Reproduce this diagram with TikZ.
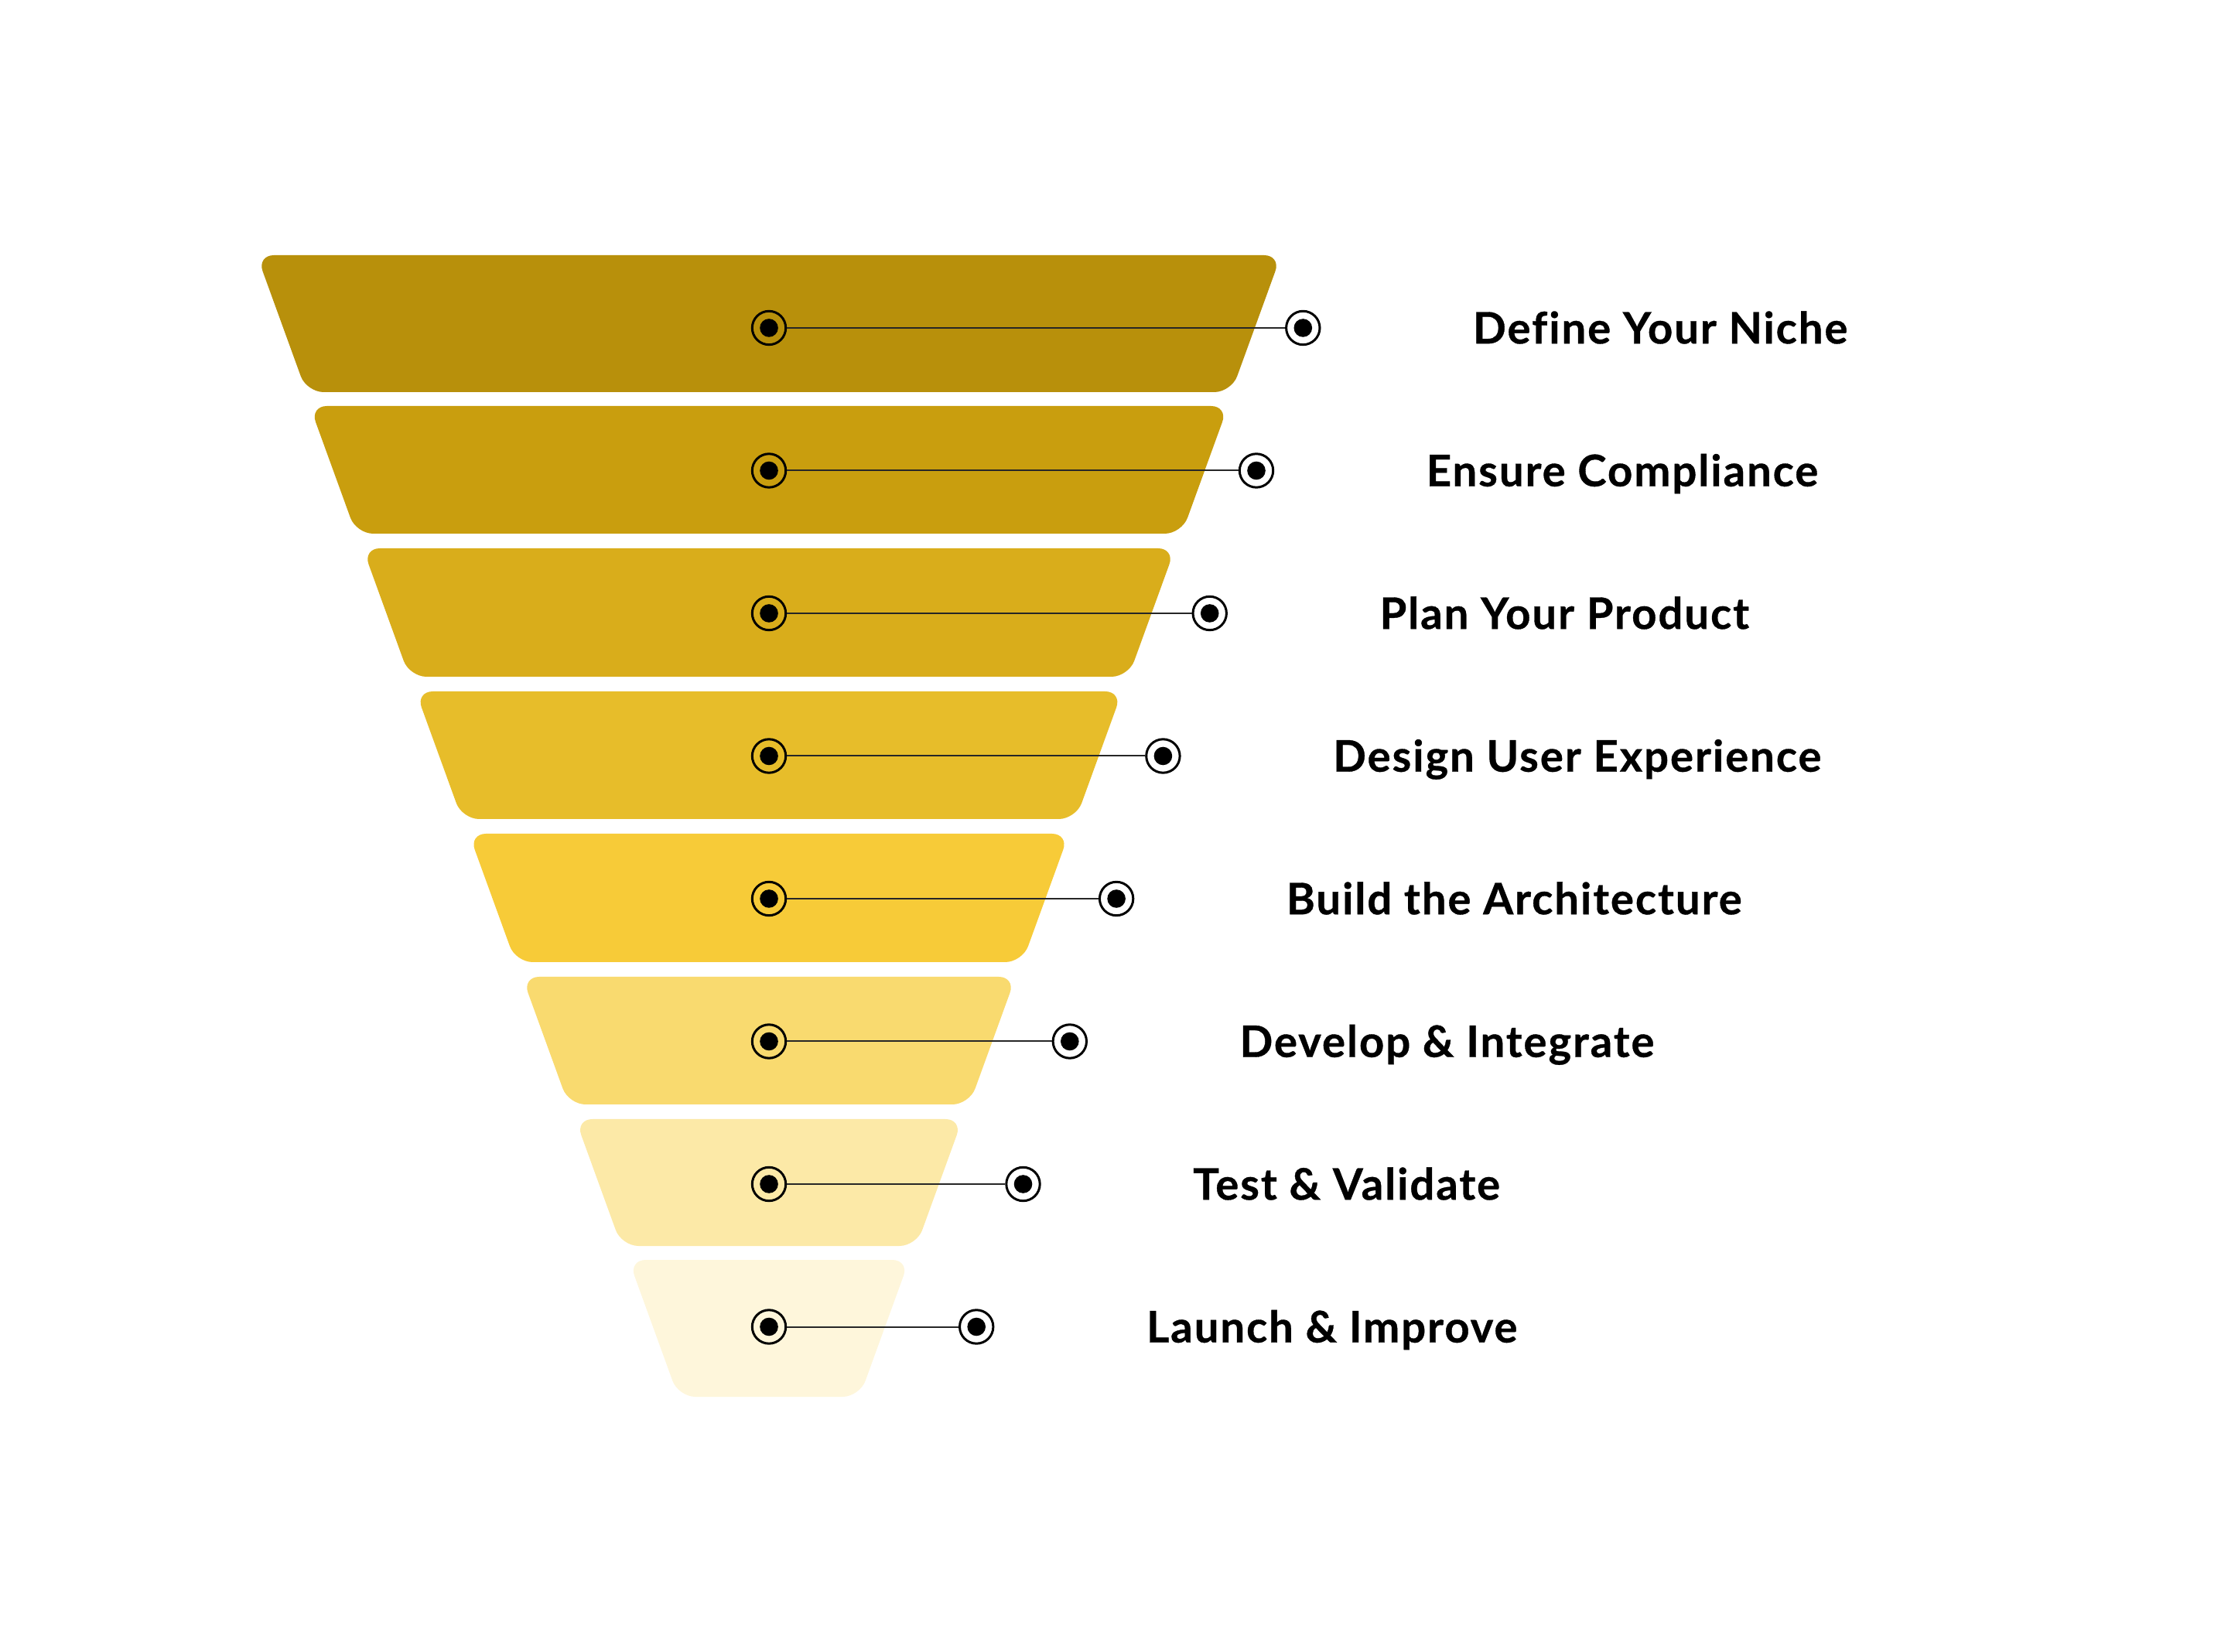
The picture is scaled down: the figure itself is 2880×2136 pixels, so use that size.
\documentclass[tikz,border=0pt]{standalone}
\usepackage{fontspec}
\setmainfont{Lato}[Ligatures=NoCommon, LetterSpace=3.5, BoldFeatures={FakeBold=0.6}]
\usetikzlibrary{positioning}

\definecolor{layA}{HTML}{B8900B}
\definecolor{layB}{HTML}{C99E0E}
\definecolor{layC}{HTML}{D9AD1B}
\definecolor{layD}{HTML}{E7BD2A}
\definecolor{layE}{HTML}{F7CB38}
\definecolor{layF}{HTML}{F9DA6F}
\definecolor{layG}{HTML}{FCE9A7}
\definecolor{layH}{HTML}{FEF6DB}

\tikzset{
  ring/.style={circle, draw=black, line width=0.75pt, minimum size=10.85pt, inner sep=0pt},
  steplabel/.style={font=\bfseries\fontsize{14.06pt}{16pt}\selectfont, inner sep=0pt, anchor=base west},
}

\begin{document}
\begin{tikzpicture}[x=0.25pt,y=-0.25pt]
  \useasboundingbox (0,0) rectangle (2880,2136);

  % funnel layers
  \foreach \col/\t/\b/\h in {layA/330/507/662, layB/525/690/593.5, layC/709/875/525,
      layD/894/1059/456.6, layE/1078/1244/387.8, layF/1263/1428/319,
      layG/1447/1611/250.2, layH/1629/1806/181.4}{
    \pgfmathsetmacro\hb{\h-0.363*(\b-\t)}
    \fill[\col, rounded corners=5.5pt] (994-\h,\t) -- (994+\h,\t) -- (994+\hb,\b) -- (994-\hb,\b) -- cycle;
  }

  % markers and labels
  \foreach \txt [count=\i from 0] in {Define Your Niche, Ensure Compliance, Plan Your Product,
      Design User Experience, Build the Architecture, Develop \& Integrate,
      Test \& Validate, Launch \& Improve}{
    \pgfmathsetmacro\y{424+184.5*\i}
    \pgfmathsetmacro\xr{1684.3-60.3*\i}
    \node[ring] (c\i) at (994,\y) {};
    \node[ring] (r\i) at (\xr,\y) {};
    \fill (c\i) circle (2.95pt);
    \fill (r\i) circle (2.95pt);
    \draw[line width=0.5pt, black!85] (c\i) -- (r\i);
    \node[steplabel] (t\i) at (\xr+219,\y+20.2) {\txt};
  }
\end{tikzpicture}
\end{document}
